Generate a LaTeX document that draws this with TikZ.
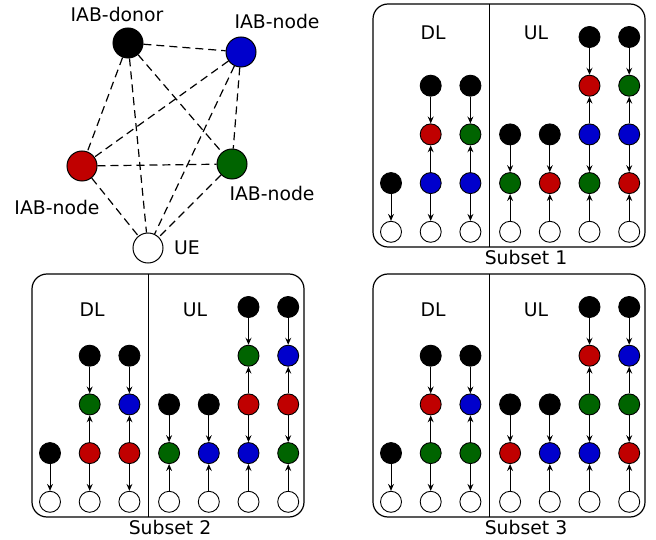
\documentclass[tikz,border=0pt]{standalone}
\usepackage{fontspec}
\setmainfont{DejaVu Sans}
\usetikzlibrary{arrows.meta}
\definecolor{iabred}{RGB}{192,0,0}
\definecolor{iabblue}{RGB}{0,0,204}
\definecolor{iabgreen}{RGB}{0,100,0}
\tikzset{
  dot/.style={circle,draw=black,line width=0.9pt,minimum size=21pt,inner sep=0pt,fill=#1},
  bigdot/.style={circle,draw=black,line width=1pt,minimum size=30pt,inner sep=0pt,fill=#1},
  link/.style={dash pattern=on 8pt off 5pt,line width=1.2pt},
  hop/.style={-{Stealth[length=7pt,width=6pt,inset=2.5pt]},line width=0.9pt},
  lbl/.style={font=\fontsize{18.8}{22}\selectfont,inner sep=0pt},
  panelframe/.style={rounded corners=15pt,line width=1.2pt}
}
% rows of a subset panel (top to bottom)
\def\rA{33}\def\rB{81.7}\def\rC{130.4}\def\rD{179.1}\def\rE{227.8}
% DL: donor straight to the UE
\newcommand\dlshort[2]{%
  \node[dot=black] (#1a) at (#2,\rD) {};
  \node[dot=white] (#1e) at (#2,\rE) {};
  \draw[hop] (#1a) -- (#1e);}
% DL: donor -> relay <- relay -> UE
\newcommand\dllong[4]{%
  \node[dot=black] (#1a) at (#2,\rB) {};
  \node[dot=#3] (#1b) at (#2,\rC) {};
  \node[dot=#4] (#1c) at (#2,\rD) {};
  \node[dot=white] (#1e) at (#2,\rE) {};
  \draw[hop] (#1a) -- (#1b);
  \draw[hop] (#1c) -- (#1b);
  \draw[hop] (#1c) -- (#1e);}
% UL: donor -> relay <- UE
\newcommand\ulshort[3]{%
  \node[dot=black] (#1a) at (#2,\rC) {};
  \node[dot=#3] (#1b) at (#2,\rD) {};
  \node[dot=white] (#1e) at (#2,\rE) {};
  \draw[hop] (#1a) -- (#1b);
  \draw[hop] (#1e) -- (#1b);}
% UL: donor -> relay <- relay -> relay <- UE
\newcommand\ullong[5]{%
  \node[dot=black] (#1a) at (#2,\rA) {};
  \node[dot=#3] (#1b) at (#2,\rB) {};
  \node[dot=#4] (#1c) at (#2,\rC) {};
  \node[dot=#5] (#1d) at (#2,\rD) {};
  \node[dot=white] (#1e) at (#2,\rE) {};
  \draw[hop] (#1a) -- (#1b);
  \draw[hop] (#1c) -- (#1b);
  \draw[hop] (#1c) -- (#1d);
  \draw[hop] (#1e) -- (#1d);}
% frame, DL/UL split and caption of a panel
\newcommand\subsetframe[4]{%
  \draw[panelframe] (0,0) rectangle (272,243);
  \draw[line width=0.7pt] (116,0) -- (116,243);
  \node[lbl] (#1dl) at (60,#2) {DL};
  \node[lbl] (#1ul) at (163,#2) {UL};
  \node[lbl] (#1cap) at (#4,253) {#3};}
\begin{document}
\begin{tikzpicture}[x=1pt,y=-1pt]
\useasboundingbox (0,0) rectangle (656,540);

% topology
\node[bigdot=black] (donor) at (128,43) {};
\node[bigdot=iabblue] (nb) at (241,52) {};
\node[bigdot=iabred] (nr) at (82,166) {};
\node[bigdot=iabgreen] (ng) at (232,164) {};
\node[bigdot=white] (ue) at (148,248) {};
\foreach \a/\b in {donor/nb,donor/nr,donor/ng,donor/ue,nb/nr,nb/ng,nb/ue,nr/ng,nr/ue,ng/ue}
  \draw[link] (\a) -- (\b);
\node[lbl] (tdonor) at (117,14) {IAB-donor};
\node[lbl] (tnb) at (277,21) {IAB-node};
\node[lbl] (tnr) at (57,207) {IAB-node};
\node[lbl] (tng) at (272,193) {IAB-node};
\node[lbl] (tue) at (187,248) {UE};

% Subset 1
\begin{scope}[shift={(373,4)}]
  \subsetframe{sa}{29}{Subset 1}{153}
  \dlshort{sa1}{18}
  \dllong{sa2}{57.7}{iabred}{iabblue}
  \dllong{sa3}{97.4}{iabgreen}{iabblue}
  \ulshort{sa4}{137.1}{iabgreen}
  \ulshort{sa5}{176.8}{iabred}
  \ullong{sa6}{216.5}{iabred}{iabblue}{iabgreen}
  \ullong{sa7}{256.2}{iabgreen}{iabblue}{iabred}
\end{scope}

% Subset 2
\begin{scope}[shift={(32,274)}]
  \subsetframe{sb}{36}{Subset 2}{138}
  \dlshort{sb1}{18}
  \dllong{sb2}{57.7}{iabgreen}{iabred}
  \dllong{sb3}{97.4}{iabblue}{iabred}
  \ulshort{sb4}{137.1}{iabgreen}
  \ulshort{sb5}{176.8}{iabblue}
  \ullong{sb6}{216.5}{iabgreen}{iabred}{iabblue}
  \ullong{sb7}{256.2}{iabblue}{iabred}{iabgreen}
\end{scope}

% Subset 3
\begin{scope}[shift={(373,274)}]
  \subsetframe{sc}{36}{Subset 3}{153}
  \dlshort{sc1}{18}
  \dllong{sc2}{57.7}{iabred}{iabgreen}
  \dllong{sc3}{97.4}{iabblue}{iabgreen}
  \ulshort{sc4}{137.1}{iabred}
  \ulshort{sc5}{176.8}{iabblue}
  \ullong{sc6}{216.5}{iabred}{iabgreen}{iabblue}
  \ullong{sc7}{256.2}{iabblue}{iabgreen}{iabred}
\end{scope}
\end{tikzpicture}
\end{document}
